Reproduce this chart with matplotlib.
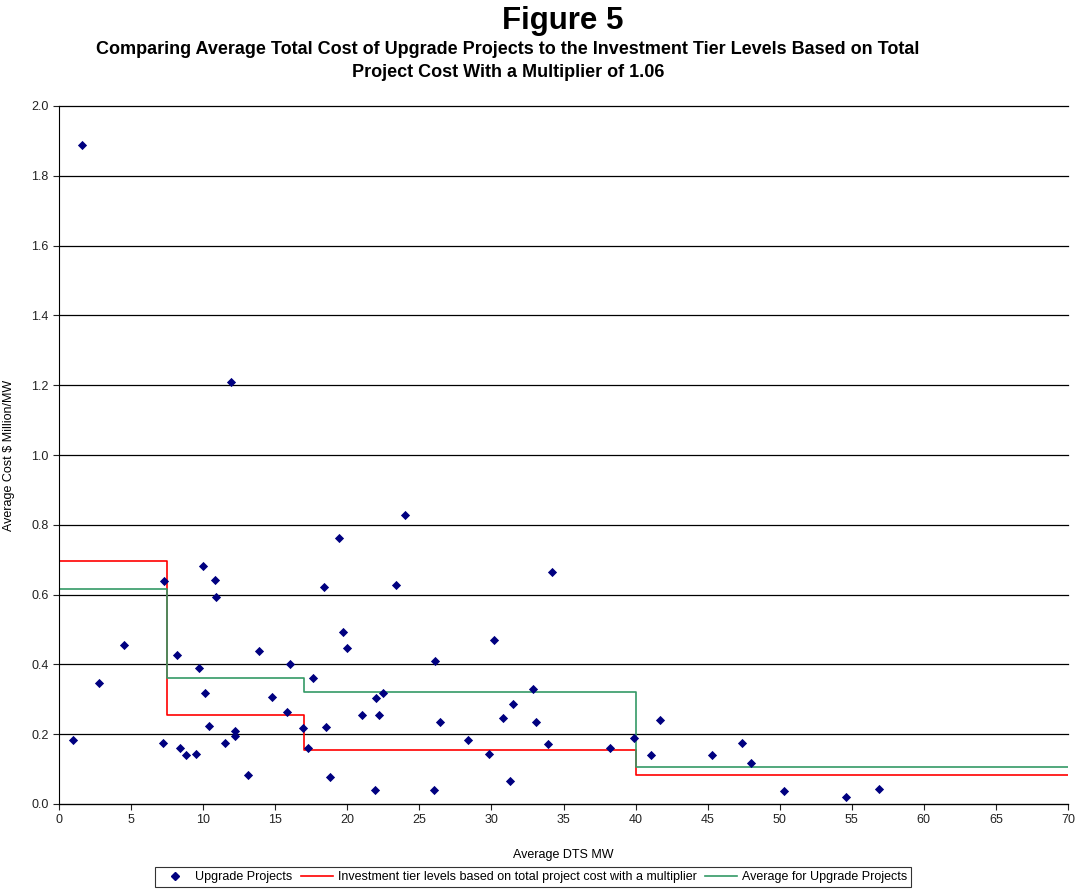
import matplotlib

matplotlib.use("Agg")
import matplotlib.pyplot as plt
from matplotlib.lines import Line2D

# Upgrade projects: average DTS MW vs average cost ($ million / MW)
dts_mw = [
    1.0, 1.6, 2.8, 4.5, 7.2, 7.3, 8.2, 8.4, 8.8, 9.5, 9.7, 10.0, 10.1, 10.4,
    10.8, 10.9, 11.5, 11.9, 12.2, 12.2, 13.1, 13.9, 14.8, 15.8, 16.0, 16.9,
    17.3, 17.6, 18.4, 18.5, 18.8, 19.4, 19.7, 20.0, 21.0, 21.9, 22.0, 22.2,
    22.5, 23.4, 24.0, 26.0, 26.1, 26.4, 28.4, 29.8, 30.2, 30.8, 31.3, 31.5,
    32.9, 33.1, 33.9, 34.2, 38.2, 39.9, 41.1, 41.7, 45.3, 47.4, 48.0, 50.3,
    54.6, 56.9,
]
avg_cost = [
    0.183, 1.887, 0.348, 0.455, 0.176, 0.638, 0.427, 0.161, 0.140, 0.143,
    0.389, 0.683, 0.317, 0.223, 0.642, 0.592, 0.176, 1.210, 0.210, 0.196,
    0.082, 0.437, 0.307, 0.265, 0.400, 0.217, 0.161, 0.362, 0.621, 0.221,
    0.078, 0.762, 0.493, 0.448, 0.255, 0.041, 0.303, 0.255, 0.318, 0.627,
    0.828, 0.041, 0.410, 0.234, 0.183, 0.144, 0.469, 0.245, 0.065, 0.286,
    0.330, 0.234, 0.171, 0.666, 0.161, 0.189, 0.141, 0.241, 0.140, 0.175,
    0.117, 0.037, 0.020, 0.044,
]

# Tier boundaries (MW) and levels
tier_edges = [0, 7.5, 17, 40, 70]
tier_levels = [0.695, 0.255, 0.155, 0.082]
upgrade_avg = [0.615, 0.362, 0.320, 0.106]

title = "Figure 5"
subtitle = ("Comparing Average Total Cost of Upgrade Projects to the Investment Tier Levels Based on Total\n"
            "Project Cost With a Multiplier of 1.06")

plt.rcParams["font.family"] = ["Liberation Sans", "DejaVu Sans"]
narrow = ["Liberation Sans Narrow", "Liberation Sans", "DejaVu Sans"]

fig = plt.figure(figsize=(10.76, 8.9), dpi=100)
ax = fig.add_axes([59 / 1076, 1 - 804 / 890, (1068 - 59) / 1076, (804 - 106) / 890])

ax.scatter(dts_mw, avg_cost, marker="D", s=22, color="#000080", zorder=3,
           linewidths=0, label="Upgrade Projects")

step_y_red = tier_levels + [tier_levels[-1]]
step_y_green = upgrade_avg + [upgrade_avg[-1]]
ax.step(tier_edges, step_y_red, where="post", color="#FF0000", lw=1.2, zorder=2,
        label="Investment tier levels based on total project cost with a multiplier")
ax.step(tier_edges, step_y_green, where="post", color="#339966", lw=1.2, zorder=2,
        label="Average for Upgrade Projects")

ax.set_xlim(0, 70)
ax.set_ylim(0, 2.0)
ax.set_xticks(range(0, 71, 5))
ax.set_yticks([i / 10 for i in range(0, 21, 2)])
ax.set_yticklabels([f"{i / 10:.1f}" for i in range(0, 21, 2)])
ax.yaxis.grid(True, color="black", lw=0.9)
for gl in ax.get_ygridlines():
    gl.set_clip_on(False)
ax.set_axisbelow(True)
ax.spines["top"].set_visible(False)
ax.spines["right"].set_visible(False)
ax.tick_params(labelsize=9, direction="out", length=4, width=0.8, colors="#222222")

ax.set_xlabel("Average DTS MW", fontsize=9, family=narrow, labelpad=16)
ax.set_ylabel("Average Cost $ Million/MW", fontsize=9, family=narrow, labelpad=12)

fig.text(563 / 1076, 1 - 21 / 890, title, ha="center", va="center",
         fontsize=22.5, fontweight="bold", family=narrow)
fig.text(508 / 1076, 1 - 61 / 890, subtitle, ha="center", va="center",
         fontsize=13, fontweight="bold", family=narrow, linespacing=1.5)

handles = [
    Line2D([], [], marker="D", ls="none", color="#000080", markersize=4.5),
    Line2D([], [], color="#FF0000", lw=1.2),
    Line2D([], [], color="#339966", lw=1.2),
]
labels = ["Upgrade Projects",
          "Investment tier levels based on total project cost with a multiplier",
          "Average for Upgrade Projects"]
leg = fig.legend(handles, labels, loc="center", bbox_to_anchor=(533 / 1076, 1 - 877 / 890),
                 ncol=3, frameon=True, fancybox=False, edgecolor="black",
                 prop={"family": narrow, "size": 9}, handlelength=2.5,
                 columnspacing=0.7, handletextpad=0.4, borderpad=0.3)
leg.get_frame().set_linewidth(0.8)

fig.savefig("out.png", dpi=100)
